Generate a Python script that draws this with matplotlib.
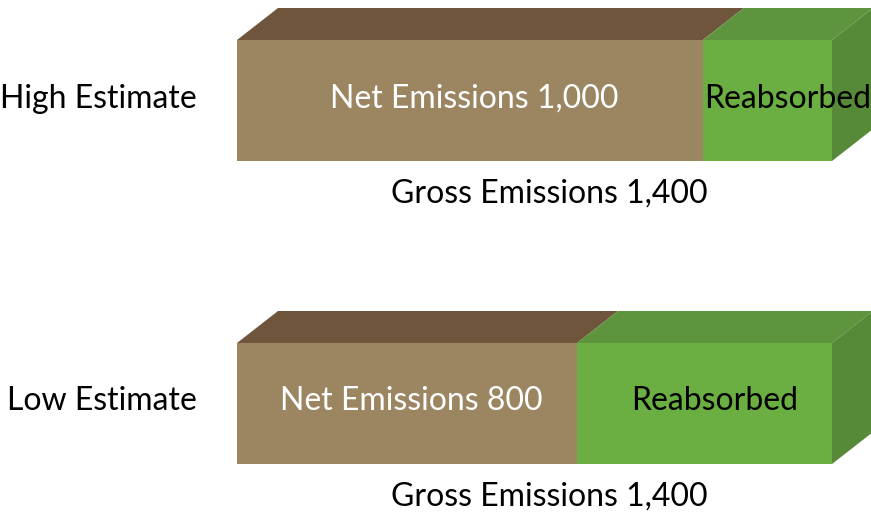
import matplotlib.pyplot as plt
from matplotlib.patches import Polygon

plt.rcParams['font.family'] = ['Lato', 'DejaVu Sans']

categories = ['High Estimate', 'Low Estimate']
net = [1096, 800]          # drawn length
reabsorbed = [304, 600]
net_labels = ['Net Emissions 1,000', 'Net Emissions 800']
gross_labels = ['Gross Emissions 1,400', 'Gross Emissions 1,400']

brown_front, brown_top = '#9C8662', '#6E553C'
green_front, green_top, green_side = '#6BAF42', '#5F943E', '#568A38'

W, H = 871, 513
fig = plt.figure(figsize=(W / 100, H / 100), dpi=100)
ax = fig.add_axes([0, 0, 1, 1])

# x in data units, y in pixels (top down)
x0_px, scale = 237, 595 / 1400
ax.set_xlim(-x0_px / scale, (W - x0_px) / scale)
ax.set_ylim(H, 0)
ax.axis('off')

ys = [100.5, 403.5]
bh = 121
dx, dy = 41 / scale, 32   # depth of the 3d box
fs = 23
reab_shift = [20, 10]     # px, label nudge toward the side face

ax.barh(ys, net, height=bh, color=brown_front, zorder=2)
ax.barh(ys, reabsorbed, left=net, height=bh, color=green_front, zorder=2)

for i, y in enumerate(ys):
    top = y - bh / 2
    bot = y + bh / 2
    n = net[i]
    total = net[i] + reabsorbed[i]
    ax.add_patch(Polygon([(0, top), (dx, top - dy), (n + dx, top - dy), (n, top)],
                         closed=True, color=brown_top, lw=0, zorder=1))
    ax.add_patch(Polygon([(n, top), (n + dx, top - dy), (total + dx, top - dy), (total, top)],
                         closed=True, color=green_top, lw=0, zorder=1))
    ax.add_patch(Polygon([(total, top), (total + dx, top - dy), (total + dx, bot - dy), (total, bot)],
                         closed=True, color=green_side, lw=0, zorder=1))

    ax.text(-40 / scale, y - 2, categories[i], ha='right', va='center', fontsize=fs, color='black')
    ax.text(n / 2 + 4 / scale, y - 2, net_labels[i], ha='center', va='center', fontsize=fs,
            color='white', zorder=3)
    rx = n + reabsorbed[i] / 2 + reab_shift[i] / scale
    ax.text(rx, y - 2, 'Reabsorbed', ha='center', va='center', fontsize=fs, color='black', zorder=3)
    ax.text(total / 2 + 15 / scale, bot + 33, gross_labels[i], ha='center', va='center',
            fontsize=fs, color='black')

fig.savefig('out.png', dpi=100)
